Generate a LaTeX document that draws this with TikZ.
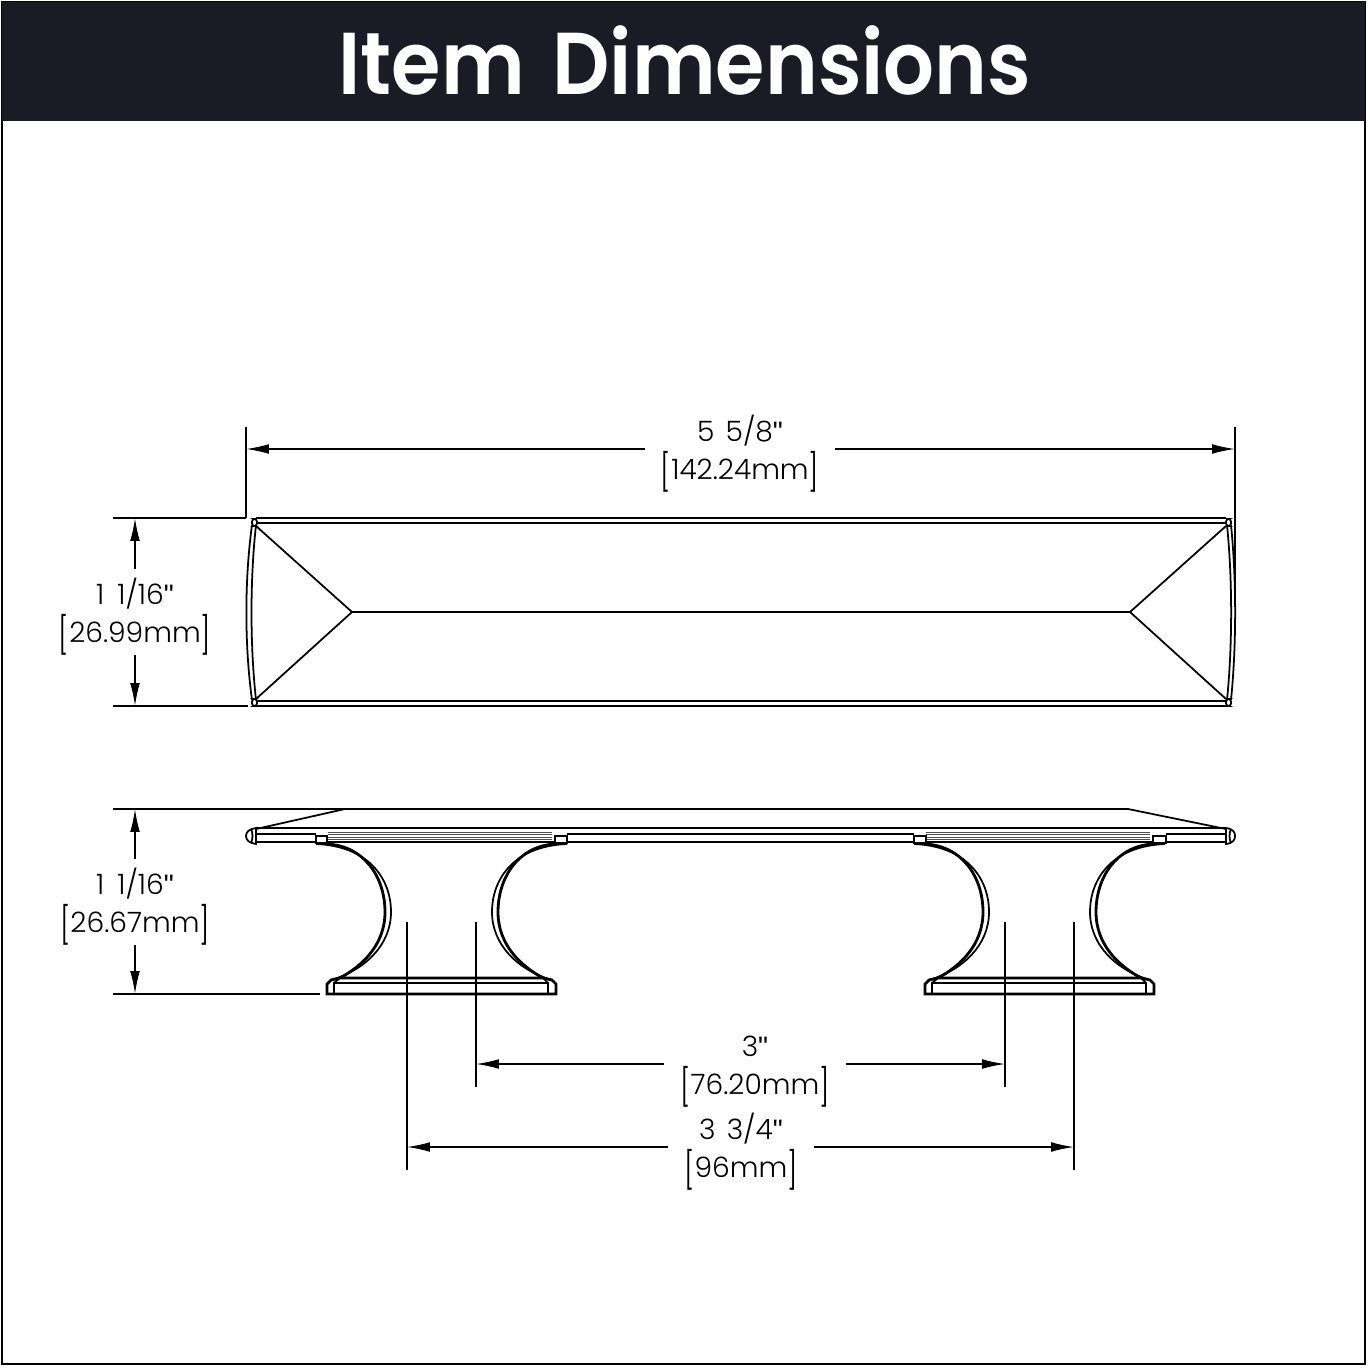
\documentclass[tikz,border=0pt]{standalone}
\usepackage{fontspec}
\usepackage{graphicx}
\usepackage{tikz}
\usetikzlibrary{arrows.meta}
\setmainfont{Poppins Light}
\newfontfamily\titlefont[FakeStretch=0.91]{Poppins SemiBold}
\newfontfamily\quotefont{Liberation Sans}
\newcommand{\tallbr}[1]{\raisebox{-0.2em}{\scalebox{1}[1.3]{#1}}}
\newcommand{\inchmark}{{\quotefont\char34}}
\newcommand{\toplift}{\rule{0pt}{20pt}}

\tikzset{
	part/.style={draw=black,line width=1pt},
	thickpart/.style={draw=black,line width=1.6pt},
	thinpart/.style={draw=black!70,line width=0.35pt},
	dimline/.style={draw=black,line width=0.8pt,-{Latex[length=13pt,width=5.5pt]}},
	extline/.style={draw=black,line width=0.8pt},
	dimlabel/.style={font=\fontsize{16}{22}\selectfont,align=center,inner xsep=9pt,inner ysep=0pt}
}

\begin{document}
\begin{tikzpicture}[x=0.02cm,y=-0.02cm]
	
	\useasboundingbox (0,0) rectangle (1368,1368);
	\draw[black,line width=0.8pt] (2,2) rectangle (1365,1364);
	\fill[fill={rgb,255:red,26;green,27;blue,36}] (2,2) rectangle (1365,121);
	\node[text=white,font=\titlefont\fontsize{50}{50}\selectfont] (title) at (685,60) {Item\hspace{5pt} Dimensions};
	
	
	% top view
	\draw[part] (256,518) -- (1226,518);
	\draw[part] (256,523) -- (1226,523);
	\draw[part] (256,701) -- (1226,701);
	\draw[part] (256,706) -- (1226,706);
	\draw[part] (352,612) -- (1130,612);
	\draw[part] (256,526) -- (352,612) -- (256,699);
	\draw[part] (1226,526) -- (1130,612) -- (1226,699);
	\draw[part] (252,525) .. controls (244.5,580) and (244.5,645) .. (252,700);
	\draw[part] (256,525) .. controls (250,580) and (250,645) .. (256,700);
	\draw[part] (1231,525) .. controls (1236.5,580) and (1236.5,645) .. (1231,700);
	\draw[part] (1227,525) .. controls (1232.5,580) and (1232.5,645) .. (1227,700);
	\draw[part,rounded corners=1.5pt] (252,519) rectangle (257,526);
	\draw[part,rounded corners=1.5pt] (252,699) rectangle (257,706);
	\draw[part,rounded corners=1.5pt] (1226,519) rectangle (1231,526);
	\draw[part,rounded corners=1.5pt] (1226,699) rectangle (1231,706);
	
	
	% side view, plate
	\draw[part] (256,829) -- (345,809) -- (1128,809) -- (1226,829);
	\draw[part] (256,828) -- (1226,828);
	\draw[part] (256,834) -- (316,834);
	\draw[part] (328,842) -- (554,842);
	\draw[part] (567,834) -- (914,834);
	\draw[part] (567,842) -- (914,842);
	\draw[part] (926,842) -- (1153,842);
	\draw[part] (1166,834) -- (1226,834);
	\draw[part] (256,842) -- (316,842);
	\draw[part] (1166,842) -- (1226,842);
	\draw[thinpart] (328,832) -- (552,832);
	\draw[thinpart] (328,834) -- (552,834);
	\draw[thinpart] (328,837) -- (552,837);
	\draw[thinpart] (328,839) -- (552,839);
	\draw[thinpart] (926,832) -- (1150,832);
	\draw[thinpart] (926,834) -- (1150,834);
	\draw[thinpart] (926,837) -- (1150,837);
	\draw[thinpart] (926,839) -- (1150,839);
	\draw[part] (256,828) .. controls (249,829) and (246,832) .. (246,836) .. controls (246,840) and (249,843) .. (256,844) -- cycle;
	\draw[part] (251,829) .. controls (253,833) and (253,839) .. (251,843);
	\draw[part] (1226,828) .. controls (1233,829) and (1235,832) .. (1235,836) .. controls (1235,840) and (1233,843) .. (1226,844) -- cycle;
	\draw[part] (1231,829) .. controls (1229,833) and (1229,839) .. (1231,843);
	\draw[part] (316,836) rectangle (327,843);
	\draw[part] (555,836) rectangle (567,843);
	\draw[part] (914,836) rectangle (926,843);
	\draw[part] (1153,836) rectangle (1166,843);
	
	
	% side view, legs
	\draw[part] (316,844) .. controls (368,846) and (391,878) .. (391,912) .. controls (391,945) and (365,970) .. (331,980);
	\draw[thickpart] (327,844) .. controls (365,846) and (385,878) .. (385,912) .. controls (385,945) and (362,966) .. (340,978);
	\draw[part] (567,844) .. controls (515,846) and (492,878) .. (492,912) .. controls (492,945) and (518,970) .. (552,980);
	\draw[thickpart] (555,844) .. controls (518,846) and (498,878) .. (498,912) .. controls (498,945) and (521,966) .. (543,978);
	\draw[part] (914,844) .. controls (966,846) and (989,878) .. (989,912) .. controls (989,945) and (963,970) .. (929,980);
	\draw[thickpart] (925,844) .. controls (963,846) and (983,878) .. (983,912) .. controls (983,945) and (960,966) .. (938,978);
	\draw[part] (1165,844) .. controls (1113,846) and (1090,878) .. (1090,912) .. controls (1090,945) and (1116,970) .. (1150,980);
	\draw[thickpart] (1153,844) .. controls (1116,846) and (1096,878) .. (1096,912) .. controls (1096,945) and (1119,966) .. (1141,978);
	
	
	% side view, bases
	\draw[thickpart] (327,994) -- (327,984) -- (331,980) -- (340,978) -- (543,978) -- (552,980) -- (556,984) -- (556,994) -- cycle;
	\draw[part] (334,994) -- (334,983) -- (548,983) -- (548,994);
	\draw[part] (334,983) -- (340,978);
	\draw[part] (548,983) -- (543,978);
	\draw[thickpart] (925,994) -- (925,984) -- (929,980) -- (938,978) -- (1141,978) -- (1150,980) -- (1154,984) -- (1154,994) -- cycle;
	\draw[part] (932,994) -- (932,983) -- (1146,983) -- (1146,994);
	\draw[part] (932,983) -- (938,978);
	\draw[part] (1146,983) -- (1141,978);
	
	
	\coordinate (widthtop1) at (246,427);
	\coordinate (widthbot1) at (246,518);
	\coordinate (widthtop2) at (1235,427);
	\coordinate (widthbot2) at (1235,590);
	\coordinate (widthend1) at (246,449);
	\coordinate (widthend2) at (1235,449);
	\coordinate (deptha) at (113,518);
	\coordinate (depthb) at (246,518);
	\coordinate (depthc) at (113,706);
	\coordinate (depthd) at (248,706);
	\coordinate (depthend1) at (135,518);
	\coordinate (depthend2) at (135,706);
	\coordinate (heighta) at (113,809);
	\coordinate (heightb) at (345,809);
	\coordinate (heightc) at (113,994);
	\coordinate (heightd) at (320,994);
	\coordinate (heightend1) at (135,809);
	\coordinate (heightend2) at (135,994);
	\coordinate (innertop1) at (476,922);
	\coordinate (innerbot1) at (476,1087);
	\coordinate (innertop2) at (1005,922);
	\coordinate (innerbot2) at (1005,1087);
	\coordinate (innerend1) at (476,1064);
	\coordinate (innerend2) at (1005,1064);
	\coordinate (outertop1) at (407,922);
	\coordinate (outerbot1) at (407,1170);
	\coordinate (outertop2) at (1074,922);
	\coordinate (outerbot2) at (1074,1170);
	\coordinate (outerend1) at (407,1147);
	\coordinate (outerend2) at (1074,1147);
	
	
	\node[dimlabel] (widthlabel) at (740,449) {\toplift 5\hspace{2pt} 5/8\inchmark\\\tallbr{[}142.24mm\tallbr{]}};
	\node[dimlabel] (depthlabel) at (135,612) {\toplift 1\hspace{3pt} 1/16\inchmark\\\tallbr{[}26.99mm\tallbr{]}};
	\node[dimlabel] (heightlabel) at (135,902) {\toplift 1\hspace{3pt} 1/16\inchmark\\\tallbr{[}26.67mm\tallbr{]}};
	\node[dimlabel] (innerlabel) at (755,1064) {\toplift 3\inchmark\\\tallbr{[}76.20mm\tallbr{]}};
	\node[dimlabel] (outerlabel) at (741,1147) {\toplift 3\hspace{2pt} 3/4\inchmark\\\tallbr{[}96mm\tallbr{]}};
	
	
	\path[extline] (widthtop1) edge (widthbot1);
	\path[extline] (widthtop2) edge (widthbot2);
	\path[extline] (deptha) edge (depthb);
	\path[extline] (depthc) edge (depthd);
	\path[extline] (heighta) edge (heightb);
	\path[extline] (heightc) edge (heightd);
	\path[extline] (innertop1) edge (innerbot1);
	\path[extline] (innertop2) edge (innerbot2);
	\path[extline] (outertop1) edge (outerbot1);
	\path[extline] (outertop2) edge (outerbot2);
	
	\draw[dimline] (widthlabel) -- (widthend1);
	\draw[dimline] (widthlabel) -- (widthend2);
	\draw[dimline] (depthlabel) -- (depthend1);
	\draw[dimline] (depthlabel) -- (depthend2);
	\draw[dimline] (heightlabel) -- (heightend1);
	\draw[dimline] (heightlabel) -- (heightend2);
	\draw[dimline] (innerlabel) -- (innerend1);
	\draw[dimline] (innerlabel) -- (innerend2);
	\draw[dimline] (outerlabel) -- (outerend1);
	\draw[dimline] (outerlabel) -- (outerend2);
	
\end{tikzpicture}
\end{document}
